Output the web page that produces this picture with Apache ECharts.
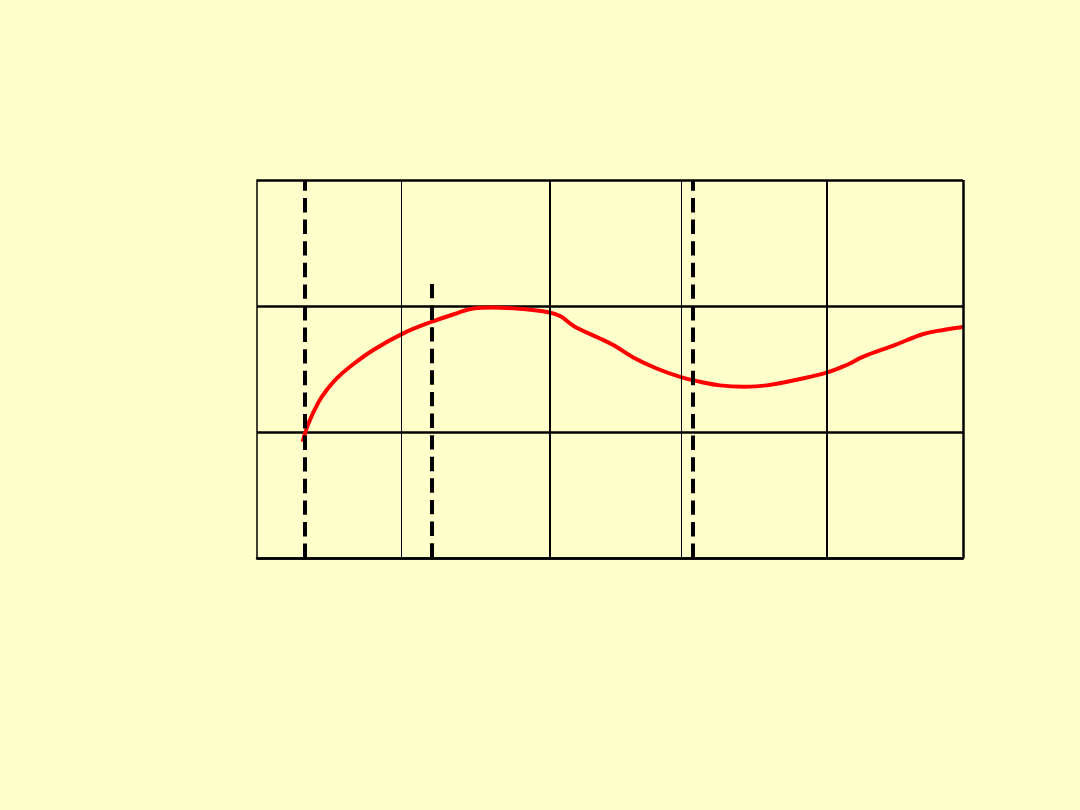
<!DOCTYPE html>
<html>
<head>
<meta charset="utf-8">
<script src="https://cdn.jsdelivr.net/npm/echarts@6/dist/echarts.min.js"></script>
<style>
html,body{margin:0;padding:0;background:#FFFFCC;}
#c{width:1080px;height:810px;}
</style>
</head>
<body>
<div id="c"></div>
<script>
// Curve data (x in 0..100 scale, y in 0..3 grid units)
const curveX = [6.47,7.3,8.7,9.87,11.29,13.17,16.47,20.72,24.75,28.29,30.64,33.47,37.72,41.26,42.92,44.33,45.28,48.58,50.47,53.30,56.61,60.16,62.75,65.58,68.88,72.20,76.91,80.69,83.53,85.88,90.13,94.38,97.21,100];
const curveY = [0.923,1.07,1.235,1.333,1.426,1.518,1.651,1.783,1.875,1.942,1.981,1.989,1.976,1.950,1.921,1.863,1.828,1.742,1.690,1.592,1.504,1.433,1.399,1.370,1.359,1.370,1.421,1.471,1.532,1.598,1.685,1.778,1.810,1.833];
// Vertical grid lines and their weights
const gridX = [20.5, 41.4, 60.1, 80.7, 100];
const gridW = [1, 2, 1, 2, 2.5];
// Dashed vertical markers: x, start y, end y
const dashX = [6.8, 24.8, 61.76];
const dashStartY = [0, 2.175, 0];
const dashEndY = [3, 0, 3];

const chart = echarts.init(document.getElementById('c'));
const curveData = curveX.map((x, i) => [x, curveY[i]]);
const vLines = gridX.map((x, i) => ({
  xAxis: x,
  lineStyle: {color: '#000', width: gridW[i], type: 'solid'}
}));
const dLines = dashX.map((x, i) => [
  {coord: [x, dashStartY[i]], lineStyle: {color: '#000', width: 4, type: [14.4, 7.2]}},
  {coord: [x, dashEndY[i]]}
]);

chart.setOption({
  backgroundColor: '#FFFFCC',
  animation: false,
  grid: {left: 257, top: 180, right: 117, bottom: 252},
  xAxis: {
    type: 'value', min: 0, max: 100,
    axisLine: {show: true, onZero: false, lineStyle: {color: '#000', width: 2.5}},
    axisTick: {show: false},
    axisLabel: {show: false},
    splitLine: {show: false}
  },
  yAxis: {
    type: 'value', min: 0, max: 3, interval: 1,
    axisLine: {show: true, lineStyle: {color: '#000', width: 1.5}},
    axisTick: {show: false},
    axisLabel: {show: false},
    splitLine: {show: true, lineStyle: {color: '#000', width: 2.5}}
  },
  series: [
    {
      type: 'line', data: [], silent: true,
      markLine: {
        silent: true, symbol: 'none', animation: false,
        label: {show: false},
        data: vLines.concat(dLines)
      }
    },
    {
      type: 'line', data: curveData, smooth: 0.4, showSymbol: false,
      clip: false,
      lineStyle: {color: '#FF0000', width: 4}
    }
  ]
});
</script>
</body>
</html>
